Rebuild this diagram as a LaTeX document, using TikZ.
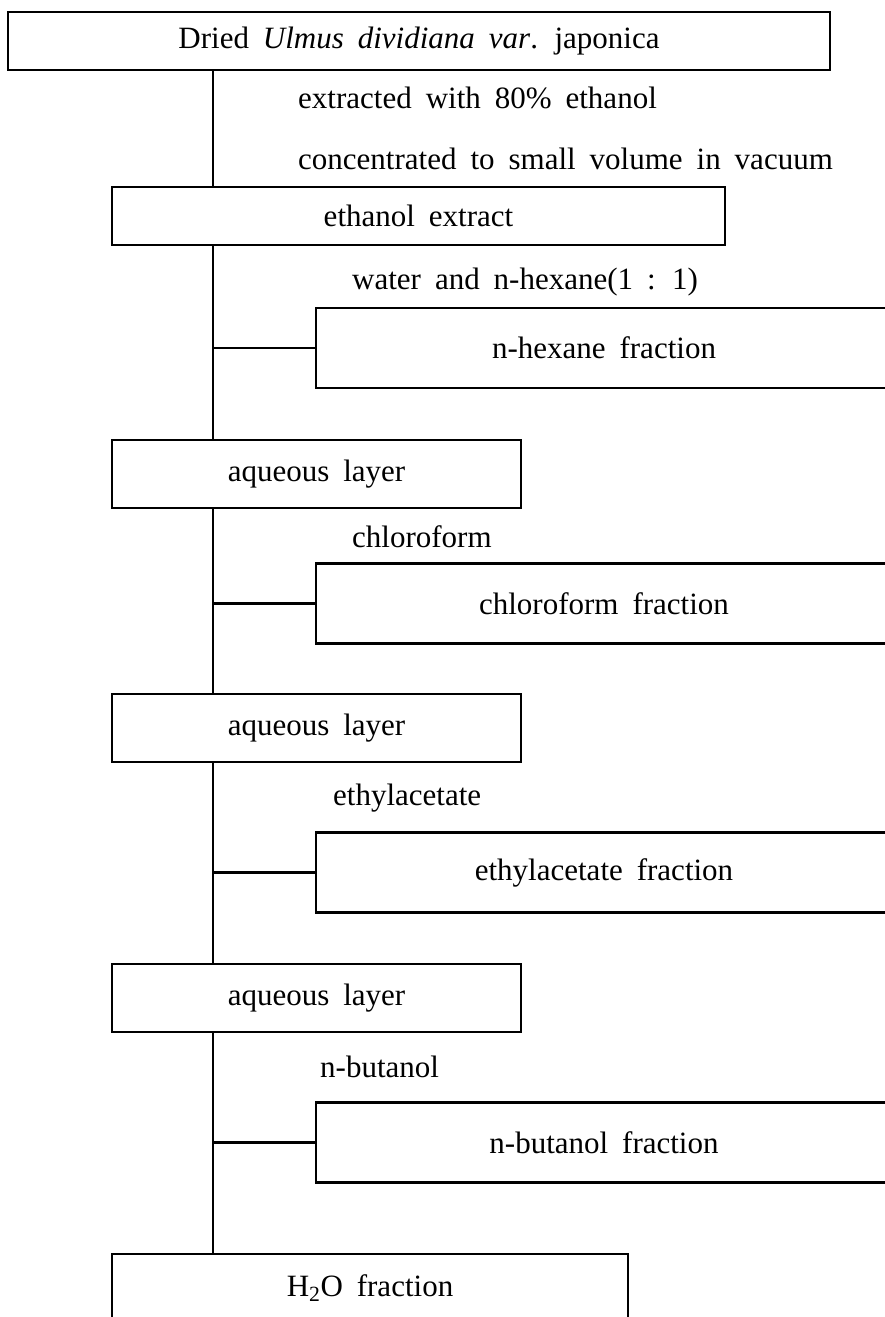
\documentclass[tikz,border=0pt]{standalone}
\usepackage{fontspec}
\setmainfont[WordSpace=1.8]{Liberation Serif}
\newfontfamily\chartfont[WordSpace=1.8]{Liberation Serif}
\usepackage{tikz}
\usetikzlibrary{positioning}

\begin{document}
\begin{tikzpicture}[x=1pt,y=-1pt,
	every node/.style={font=\chartfont\fontsize{31}{36}\selectfont},
	stage/.style={draw,line width=2.6pt,inner sep=0pt,minimum height=58pt},
	layer/.style={stage,minimum width=409pt,minimum height=68pt},
	frac/.style={stage,minimum width=576pt,minimum height=80pt},
	note/.style={anchor=base west,inner sep=0pt},
	link/.style={line width=2.6pt}]
\useasboundingbox (0,0) rectangle (885,1317);
\coordinate (spine) at (213,0);

\node[stage,minimum width=822pt] (dried) at (419,41) {Dried \textit{Ulmus dividiana var}. japonica};
\node[note] (extr) at (298,108) {extracted with 80\% ethanol};
\node[note] (conc) at (298,169) {concentrated to small volume in vacuum};
\node[stage,minimum width=613pt] (extract) at (418.5,216) {ethanol extract};

\node[note] (wat) at (352,289) {water and n-hexane(1 : 1)};
\node[frac] (hexane) at (604,348) {n-hexane fraction};
\node[layer] (aq1) at (316.5,474) {aqueous layer};

\node[note] (chl) at (352,547) {chloroform};
\node[frac] (chloro) at (604,603.5) {chloroform fraction};
\node[layer] (aq2) at (316.5,728) {aqueous layer};

\node[note] (eth) at (333,805) {ethylacetate};
\node[frac] (ethyl) at (604,872.5) {ethylacetate fraction};
\node[layer] (aq3) at (316.5,998) {aqueous layer};

\node[note] (but) at (320,1077) {n-butanol};
\node[frac] (butanol) at (604,1142.5) {n-butanol fraction};
\node[layer,minimum width=516pt] (water) at (370,1288) {H\textsubscript{2}O fraction};

% spine
\draw[link] (dried.south -| spine) -- (extract.north -| spine);
\draw[link] (extract.south -| spine) -- (aq1.north -| spine);
\draw[link] (aq1.south -| spine) -- (aq2.north -| spine);
\draw[link] (aq2.south -| spine) -- (aq3.north -| spine);
\draw[link] (aq3.south -| spine) -- (water.north -| spine);

% branches
\draw[link] (hexane.west -| spine) -- (hexane.west);
\draw[link] (chloro.west -| spine) -- (chloro.west);
\draw[link] (ethyl.west -| spine) -- (ethyl.west);
\draw[link] (butanol.west -| spine) -- (butanol.west);
\end{tikzpicture}
\end{document}
